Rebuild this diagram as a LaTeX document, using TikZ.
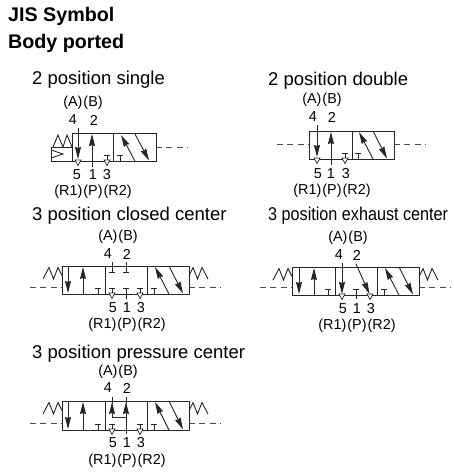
\documentclass[tikz,border=0pt]{standalone}
\usepackage{fontspec}
\setmainfont{Liberation Sans}
\usetikzlibrary{arrows.meta}
\tikzset{
 ln/.style={line width=0.9pt,draw=black!85},
 arr/.style={ln,-{Stealth[length=12pt,width=6pt,inset=1pt]}},
 dsh/.style={line width=0.9pt,draw=black!70,dash pattern=on 6pt off 4.4pt},
 ttl/.style={anchor=base west,inner sep=0pt,font=\fontsize{18.5}{19}\selectfont},
 hd/.style={anchor=base west,inner sep=0pt,font=\fontsize{19.7}{20}\selectfont\bfseries},
 lab/.style={inner sep=0pt,font=\fontsize{14.4}{15}\selectfont}
}
\newcommand{\Tee}[2]{\draw[ln] (#1-3,#2-6) -- (#1+3,#2-6) (#1,#2-6) -- (#1,#2);}
\newcommand{\Tri}[2]{\draw[line width=0.7pt,draw=black!85,fill=white] (#1-3,#2-1) -- (#1+3,#2-1) -- (#1,#2+4.5) -- cycle;}
\newcommand{\Cross}[3]{\draw[arr] (#1+14,#3) -- (#1,#2+1);\draw[arr] (#1+14,#2) -- (#1+28,#3-0.5);}
\newcommand{\Spring}[3]{\draw[ln] (#1,#2) -- ++(#3*6,-11.5) -- ++(#3*4.5,11.5) -- ++(#3*4.5,-11.5) -- ++(#3*4,8);}
\begin{document}
\begin{tikzpicture}[x=1pt,y=-1pt]
\useasboundingbox (0,0) rectangle (454,474);
\node[hd] (h1) at (8,21) {JIS Symbol};
\node[hd] (h2) at (8,48) {Body ported};
% ---------- 2 position single
\node[ttl] (t1) at (32,84) {2 position single};
\node[lab] (a1) at (83,103) {(A)\kern1pt(B)};
\node[lab] (p14) at (73,120) {4};
\node[lab] (p12) at (94,120) {2};
\node[lab] (p15) at (77,175) {5};
\node[lab] (p11) at (93,175) {1};
\node[lab] (p13) at (107,175) {3};
\node[lab] (r1) at (93,192) {(R1)\kern1pt(P)\kern1pt(R2)};
\draw[ln] (72,133) rectangle (156,161) (113,133) -- (113,161);
\draw[ln] (51,147) rectangle (72,161);
\draw[ln] (51,150) -- (63,154) -- (51,158);
\draw[ln] (53,147) -- (58,135) -- (63,147) -- (67,135) -- (72,147);
\draw[arr] (78,128) -- (78,159);
\draw[arr] (92,167) -- (92,134);
\Tri{78}{161}
\Tee{107}{161}\Tri{107}{161}
\Tee{120}{161}
\Cross{121}{134}{161}
\draw[dsh] (156,147) -- (188,147);
% ---------- 2 position double
\node[ttl] (t2) at (268,85) {2 position double};
\node[lab] (a2) at (322,100) {(A)\kern1pt(B)};
\node[lab] (p24) at (313,117) {4};
\node[lab] (p22) at (332,117) {2};
\node[lab] (p25) at (318,174) {5};
\node[lab] (p21) at (331,174) {1};
\node[lab] (p23) at (346,174) {3};
\node[lab] (r2) at (332,191) {(R1)\kern1pt(P)\kern1pt(R2)};
\draw[ln] (309,131) rectangle (394,159) (352,131) -- (352,159);
\draw[arr] (317,125) -- (317,157);
\draw[arr] (331,165) -- (331,132);
\Tri{317}{159}
\Tee{345}{159}\Tri{345}{159}
\Tee{358}{159}
\Cross{359}{131}{159}
\draw[dsh] (277,144) -- (309,144);
\draw[dsh] (394,144) -- (426,144);
% ---------- 3 position closed center
\node[ttl] (t3) at (32,220) {3 position closed center};
\node[lab] (a3) at (118,237) {(A)\kern1pt(B)};
\node[lab] (p34) at (108,254) {4};
\node[lab] (p32) at (127,254) {2};
\node[lab] (p35) at (113,308) {5};
\node[lab] (p31) at (127,308) {1};
\node[lab] (p33) at (141,308) {3};
\node[lab] (r3) at (127,325) {(R1)\kern1pt(P)\kern1pt(R2)};
\draw[ln] (62,266) rectangle (189,294) (105,266) -- (105,294) (147,266) -- (147,294);
\draw[arr] (68,267) -- (68,293);
\draw[arr] (83,294) -- (83,267);
\Tee{98}{294}
\draw[ln] (112,262) -- (112,272) (109,272) -- (115,272);
\draw[ln] (126,262) -- (126,272) (123,272) -- (129,272);
\Tee{112}{294}\Tri{112}{294}
\draw[ln] (123,288) -- (129,288) (126,288) -- (126,299);
\Tee{140}{294}\Tri{140}{294}
\Tee{154}{294}
\Cross{155}{266}{294}
\Spring{43}{279}{1}
\Spring{208}{279}{-1}
\draw[dsh] (30,287) -- (62,287);
\draw[dsh] (189,287) -- (221,287);
% ---------- 3 position exhaust center
\node[ttl,xscale=0.875,transform shape] (t4) at (268,220) {3 position exhaust center};
\node[lab] (a4) at (348,238) {(A)\kern1pt(B)};
\node[lab] (p44) at (339,255) {4};
\node[lab] (p42) at (357,255) {2};
\node[lab] (p45) at (343,309) {5};
\node[lab] (p41) at (357,309) {1};
\node[lab] (p43) at (371,309) {3};
\node[lab] (r4) at (357,326) {(R1)\kern1pt(P)\kern1pt(R2)};
\draw[ln] (292,267) rectangle (419,295) (335,267) -- (335,295) (377,267) -- (377,295);
\draw[arr] (299,268) -- (299,294);
\draw[arr] (314,295) -- (314,268);
\Tee{328}{295}
\draw[arr] (342,263) -- (342,294);
\draw[arr] (356,264) -- (369.5,294);
\Tri{342}{295}\Tri{370}{295}
\draw[ln] (353,289) -- (359,289) (356,289) -- (356,299);
\Tee{384}{295}
\Cross{385}{267}{295}
\Spring{273}{280}{1}
\Spring{438}{280}{-1}
\draw[dsh] (260,287) -- (292,287);
\draw[dsh] (419,287) -- (451,287);
% ---------- 3 position pressure center
\node[ttl] (t5) at (32,358) {3 position pressure center};
\node[lab] (a5) at (118,372) {(A)\kern1pt(B)};
\node[lab] (p54) at (108,388) {4};
\node[lab] (p52) at (127,388) {2};
\node[lab] (p55) at (113,443) {5};
\node[lab] (p51) at (127,443) {1};
\node[lab] (p53) at (141,443) {3};
\node[lab] (r5) at (127,461) {(R1)\kern1pt(P)\kern1pt(R2)};
\draw[ln] (62,401) rectangle (189,430) (105,401) -- (105,430) (147,401) -- (147,430);
\draw[arr] (68,402) -- (68,429);
\draw[arr] (83,430) -- (83,402);
\Tee{98}{430}
\draw[ln] (112,397) -- (112,404) (126,397) -- (126,404);
\draw[ln] (112,417) -- (126,417);
\draw[arr] (112,417) -- (112,402);
\draw[arr] (126,434) -- (126,402);
\Tee{112}{430}\Tri{112}{430}
\Tee{140}{430}\Tri{140}{430}
\Tee{154}{430}
\Cross{155}{401}{430}
\Spring{43}{414}{1}
\Spring{208}{414}{-1}
\draw[dsh] (30,423) -- (62,423);
\draw[dsh] (189,423) -- (221,423);
\end{tikzpicture}
\end{document}
